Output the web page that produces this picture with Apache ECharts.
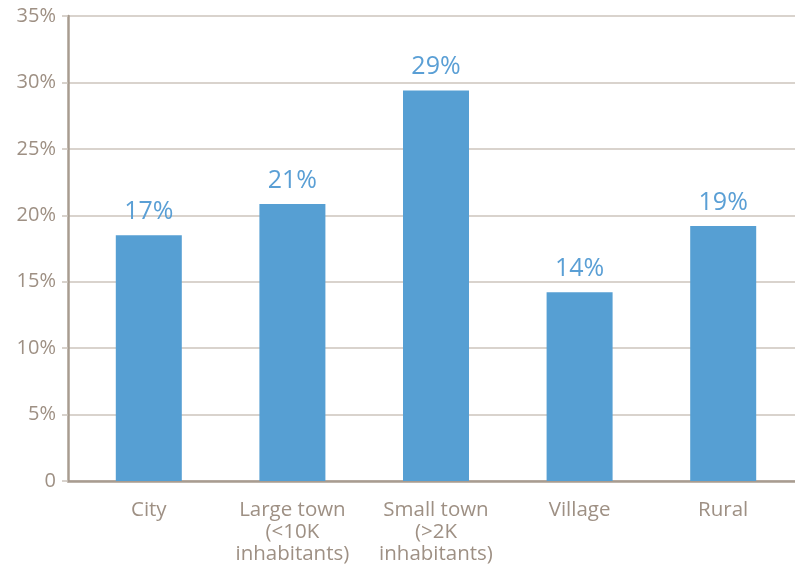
<!DOCTYPE html>
<html><head><meta charset="utf-8">
<script src="https://cdn.jsdelivr.net/npm/echarts@6/dist/echarts.min.js"></script>
<style>html,body{margin:0;padding:0;background:#fff}#c{width:795px;height:568px}</style>
</head><body><div id="c"></div>
<script>
const categories = ['City', 'Large town\n(<10K\ninhabitants)', 'Small town\n(>2K\ninhabitants)', 'Village', 'Rural'];
const barValues = [18.5, 20.85, 29.4, 14.2, 19.2];
const barLabels = ['17%', '21%', '29%', '14%', '19%'];
const yTicks = [0, 5, 10, 15, 20, 25, 30, 35];

const axisText = '#9e9084';
const gridColor = '#ccc4bc';
const axisColor = '#a89c90';
const barColor = '#569fd3';
const font = 'Open Sans';

const chart = echarts.init(document.getElementById('c'), null, {renderer: 'canvas'});
chart.setOption({
  animation: false,
  grid: [
    {left: 68, right: 0, top: 16, bottom: 87},
    {left: 77, right: 0, top: 16, bottom: 87}
  ],
  xAxis: [
    {gridIndex: 0, type: 'value', min: 0, max: 1, show: true,
     axisLine: {show: true, onZero: false, lineStyle: {color: axisColor, width: 2.5}},
     axisTick: {show: false}, axisLabel: {show: false}, splitLine: {show: false}},
    {gridIndex: 1, type: 'category', data: categories,
     axisLine: {show: false}, axisTick: {show: false},
     axisLabel: {color: axisText, fontFamily: font, fontSize: 20.5, lineHeight: 22, margin: 18, interval: 0}}
  ],
  yAxis: [
    {gridIndex: 0, type: 'value', min: 0, max: 35, interval: 5,
     axisLine: {show: true, lineStyle: {color: axisColor, width: 2.5}},
     axisTick: {show: true, length: 6, lineStyle: {color: gridColor, width: 1.5}},
     splitLine: {show: true, lineStyle: {color: gridColor, width: 1.5}},
     axisLabel: {color: axisText, fontFamily: font, fontSize: 20, margin: 12,
       formatter: v => yTicks.includes(v) ? (v === 0 ? '0' : v + '%') : ''}},
    {gridIndex: 1, type: 'value', min: 0, max: 35, interval: 5, show: false}
  ],
  series: [{
    type: 'bar', xAxisIndex: 1, yAxisIndex: 1,
    data: barValues, barWidth: 66,
    itemStyle: {color: barColor},
    label: {show: true, position: 'top', distance: 11, color: '#5a9fd5',
      fontFamily: font, fontSize: 25,
      formatter: p => barLabels[p.dataIndex]}
  }]
});
</script></body></html>
